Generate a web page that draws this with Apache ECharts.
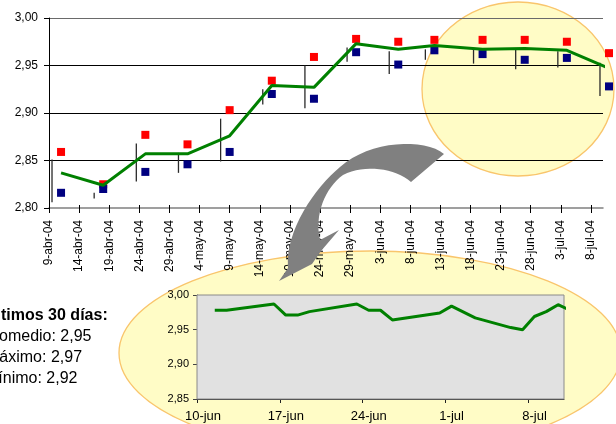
<!DOCTYPE html>
<html><head><meta charset="utf-8">
<script src="https://cdn.jsdelivr.net/npm/echarts@6/dist/echarts.min.js"></script>
<style>html,body{margin:0;padding:0;background:#fff}#c{width:616px;height:424px}</style>
</head><body><div id="c"></div>
<script>
const FONT = '"Liberation Sans", Arial, sans-serif';

// ---- main chart data ----
const mainStart = '2004-04-09';
const mainEnd = '2004-07-10';
const mainTickLabels = ['9-abr-04','14-abr-04','19-abr-04','24-abr-04','29-abr-04','4-may-04','9-may-04','14-may-04','19-may-04','24-may-04','29-may-04','3-jun-04','8-jun-04','13-jun-04','18-jun-04','23-jun-04','28-jun-04','3-jul-04','8-jul-04'];
const yTickMain = [2.80, 2.85, 2.90, 2.95, 3.00];
const weekDates = ['2004-04-11','2004-04-18','2004-04-25','2004-05-02','2004-05-09','2004-05-16','2004-05-23','2004-05-30','2004-06-06','2004-06-12','2004-06-20','2004-06-27','2004-07-04','2004-07-11'];
const weekMax = [2.859, 2.825, 2.877, 2.867, 2.903, 2.934, 2.959, 2.978, 2.975, 2.977, 2.977, 2.977, 2.975, 2.963];
const weekMin = [2.816, 2.820, 2.838, 2.846, 2.859, 2.920, 2.915, 2.964, 2.951, 2.966, 2.962, 2.956, 2.958, 2.928];
const weekAvg = [2.837, 2.824, 2.857, 2.857, 2.876, 2.929, 2.927, 2.973, 2.967, 2.971, 2.967, 2.968, 2.966, 2.947];
const rangeDates = ['2004-04-09','2004-04-16','2004-04-23','2004-04-30','2004-05-07','2004-05-14','2004-05-21','2004-05-28','2004-06-04','2004-06-10','2004-06-18','2004-06-25','2004-07-02','2004-07-09'];
const rangeHigh = [2.851, 2.816, 2.868, 2.858, 2.894, 2.925, 2.950, 2.969, 2.965, 2.967, 2.968, 2.967, 2.965, 2.953];
const rangeLow  = [2.806, 2.810, 2.828, 2.837, 2.849, 2.909, 2.905, 2.954, 2.941, 2.956, 2.952, 2.946, 2.948, 2.918];

// ---- inset chart data ----
const insetStart = '2004-06-10';
const insetEnd = '2004-07-11';
const insetTickLabels = ['10-jun','17-jun','24-jun','1-jul','8-jul'];
const insetDates = ['2004-06-11','2004-06-12','2004-06-16','2004-06-17','2004-06-18','2004-06-19','2004-06-23','2004-06-24','2004-06-25','2004-06-26','2004-06-30','2004-07-01','2004-07-03','2004-07-06','2004-07-07','2004-07-08','2004-07-09','2004-07-10','2004-07-11'];
const insetValues = [2.978, 2.978, 2.987, 2.971, 2.971, 2.976, 2.987, 2.978, 2.978, 2.964, 2.974, 2.984, 2.967, 2.953, 2.950, 2.969, 2.976, 2.986, 2.978];

const statsLines = ['Últimos 30 días:', 'Promedio: 2,95', 'Máximo: 2,97', 'Mínimo: 2,92'];

function dayOf(s, start) { return Math.round((Date.parse(s) - Date.parse(start)) / 86400000); }
const fmt = v => v.toFixed(2).replace('.', ',');

const mainTickVals = mainTickLabels.map((_, i) => i * 5);
const insetTickVals = insetTickLabels.map((_, i) => i * 7);

// decorative curved arrow outline (sampled cubic segments)
function cubicPts(p0, c1, c2, p1, n) {
  const out = [];
  for (let i = 1; i <= n; i++) {
    const t = i / n, u = 1 - t;
    out.push([u*u*u*p0[0] + 3*u*u*t*c1[0] + 3*u*t*t*c2[0] + t*t*t*p1[0],
              u*u*u*p0[1] + 3*u*u*t*c1[1] + 3*u*t*t*c2[1] + t*t*t*p1[1]]);
  }
  return out;
}
const arrowPts = [[444,154]]
  .concat(cubicPts([444,154],[425,138],[370,140],[340,167],16))
  .concat(cubicPts([340,167],[315,188],[285,230],[288,268],16))
  .concat([[279,281],[312,264],[321,251],[339,230],[320,240]])
  .concat(cubicPts([320,240],[314,215],[325,188],[343,175],16))
  .concat(cubicPts([343,175],[365,164],[395,168],[411,182],16));

const chart = echarts.init(document.getElementById('c'), null, {renderer: 'canvas'});

const option = {
  animation: false,
  backgroundColor: '#fff',
  textStyle: {fontFamily: FONT},
  grid: [
    {left: 49, top: 18, width: 554, height: 190, containLabel: false},
    {left: 197, top: 295, width: 367, height: 104, show: true, backgroundColor: '#E1E1E1', borderColor: '#8a8a8a', borderWidth: 1, z: 1},
    {left: 49, top: 18, width: 554, height: 190}
  ],
  xAxis: [
    {gridIndex: 0, type: 'value', min: 0, max: dayOf(mainEnd, mainStart),
      axisLine: {show: true, lineStyle: {color: '#808080', width: 1.5}},
      axisTick: {show: true, length: 5, lineStyle: {color: '#000'}, customValues: mainTickVals},
      axisLabel: {rotate: 90, fontSize: 12, color: '#000', margin: 12, fontFamily: FONT, padding: [5, 0, 0, 0],
        customValues: mainTickVals,
        formatter: v => mainTickLabels[Math.round(v / 5)] || ''},
      splitLine: {show: false}},
    {gridIndex: 1, type: 'value', min: 0, max: dayOf(insetEnd, insetStart),
      axisLine: {show: true, lineStyle: {color: '#222', width: 1}},
      axisTick: {show: true, length: 4, lineStyle: {color: '#222'}, customValues: insetTickVals},
      axisLabel: {fontSize: 13, color: '#000', margin: 11, fontFamily: FONT, padding: [0, 0, 0, 12],
        customValues: insetTickVals,
        formatter: v => insetTickLabels[Math.round(v / 7)] || ''},
      splitLine: {show: false}},
    {gridIndex: 2, type: 'value', min: 0, max: dayOf(mainEnd, mainStart),
      axisLine: {show: false},
      axisTick: {show: true, inside: true, length: 3, lineStyle: {color: '#000'}, customValues: mainTickVals},
      axisLabel: {show: false}, splitLine: {show: false}}
  ],
  yAxis: [
    {gridIndex: 0, type: 'value', min: yTickMain[0], max: yTickMain[yTickMain.length - 1], interval: 0.05,
      axisLine: {show: true, lineStyle: {color: '#000', width: 1}},
      axisTick: {show: true, length: 5, lineStyle: {color: '#000'}},
      axisLabel: {fontSize: 12, color: '#000', margin: 11, fontFamily: FONT, formatter: fmt},
      splitLine: {show: true, showMinLine: false, lineStyle: {color: ['#000', '#000', '#000', '#6a6a6a', '#8a8a8a'], width: 1}}},
    {gridIndex: 1, type: 'value', min: 2.85, max: 3.00, interval: 0.05,
      axisLine: {show: true, lineStyle: {color: '#444', width: 1}},
      axisTick: {show: true, length: 4, lineStyle: {color: '#444'}},
      axisLabel: {fontSize: 11, color: '#000', margin: 8, fontFamily: FONT, formatter: fmt},
      splitLine: {show: true, showMinLine: false, showMaxLine: false, lineStyle: {color: '#EBEBEB', width: 1}}},
    {gridIndex: 2, type: 'value', min: 0, max: 1, show: false}
  ],
  series: [
    {type: 'custom', xAxisIndex: 0, yAxisIndex: 0, clip: false, z: 3,
      data: rangeDates.map((d, i) => [dayOf(d, mainStart) + 0.5, rangeLow[i], rangeHigh[i]]),
      encode: {x: 0, y: [1, 2]},
      renderItem: (params, api) => {
        const p1 = api.coord([api.value(0), api.value(1)]);
        const p2 = api.coord([api.value(0), api.value(2)]);
        return {type: 'line', shape: {x1: p1[0], y1: p1[1], x2: p2[0], y2: p2[1]},
          style: {stroke: '#2a2a2a', lineWidth: 1.3}};
      }},
    {type: 'scatter', xAxisIndex: 0, yAxisIndex: 0, clip: false, z: 3, symbol: 'rect', symbolSize: 8,
      itemStyle: {color: '#FF0000', opacity: 1},
      data: weekDates.map((d, i) => [dayOf(d, mainStart), weekMax[i]])},
    {type: 'scatter', xAxisIndex: 0, yAxisIndex: 0, clip: false, z: 3, symbol: 'rect', symbolSize: 8,
      itemStyle: {color: '#000080', opacity: 1},
      data: weekDates.map((d, i) => [dayOf(d, mainStart), weekMin[i]])},
    {type: 'line', xAxisIndex: 0, yAxisIndex: 0, clip: false, z: 4, symbol: 'none',
      lineStyle: {color: '#008000', width: 3},
      data: weekDates.map((d, i) => [dayOf(d, mainStart), weekAvg[i]])},
    {type: 'line', xAxisIndex: 1, yAxisIndex: 1, clip: false, z: 4, symbol: 'none',
      lineStyle: {color: '#008000', width: 3},
      data: insetDates.map((d, i) => [dayOf(d, insetStart) + 0.5, insetValues[i]])}
  ],
  graphic: [
    {type: 'ellipse', z: -10, silent: true, shape: {cx: 518, cy: 89, rx: 96, ry: 87},
      style: {fill: '#FFFCC6', stroke: '#F9C56C', lineWidth: 1.3}},
    {type: 'ellipse', z: -10, silent: true, shape: {cx: 370, cy: 353, rx: 251, ry: 102},
      style: {fill: '#FFFCC6', stroke: '#F9C56C', lineWidth: 1.3}},
    {type: 'polygon', z: 100, silent: true, shape: {points: arrowPts},
      style: {fill: '#808080'}},
    {type: 'text', z: 50, x: -15, y: 315.5, style: {text: statsLines[0], font: 'bold 16px ' + FONT, fill: '#000', verticalAlign: 'middle'}},
    {type: 'text', z: 50, x: -17, y: 337, style: {text: statsLines[1], font: '16px ' + FONT, fill: '#000', verticalAlign: 'middle'}},
    {type: 'text', z: 50, x: -14, y: 358, style: {text: statsLines[2], font: '16px ' + FONT, fill: '#000', verticalAlign: 'middle'}},
    {type: 'text', z: 50, x: -15, y: 378.5, style: {text: statsLines[3], font: '16px ' + FONT, fill: '#000', verticalAlign: 'middle'}}
  ]
};
chart.setOption(option);
</script>
</body></html>
